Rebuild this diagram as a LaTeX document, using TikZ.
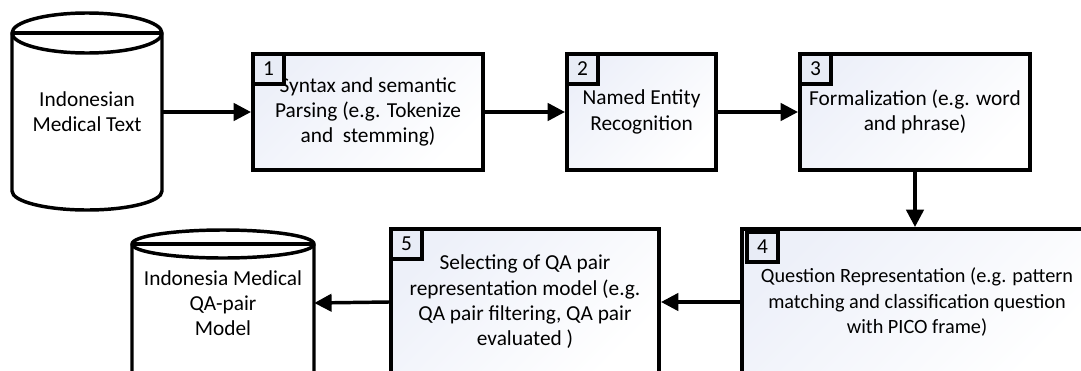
\documentclass[tikz,border=0pt]{standalone}
\usepackage{fontspec}
\setmainfont{Carlito}
\usetikzlibrary{arrows.meta,positioning}
\definecolor{shadeblue}{RGB}{237,240,249}
\definecolor{numfill}{RGB}{232,236,246}
\tikzset{
  lbl/.style={font=\fontsize{16pt}{19pt}\selectfont, align=center},
  procbox/.style={lbl, draw=black, line width=3pt, top color=shadeblue, bottom color=white, shading angle=45, inner sep=0pt, minimum height=87pt},
  numbox/.style={draw=black, line width=3pt, fill=numfill, inner sep=0pt, minimum width=23.25pt, minimum height=22.5pt, anchor=north west, font=\fontsize{16pt}{19pt}\selectfont},
  cylline/.style={draw=black, line width=2.6pt, fill=white},
  conn/.style={line width=2.6pt, -{Triangle[length=13pt,width=13pt]}},
  holder/.style={lbl, inner sep=0pt}
}
\begin{document}
\begin{tikzpicture}[x=0.75pt,y=-0.75pt]
\useasboundingbox (0,0) rectangle (1081,371);
\clip (0,0) rectangle (1081,371);
% cylinder 1
\path[cylline] (12,33) arc[start angle=180,end angle=0,x radius=56.25pt,y radius=15pt] -- (162,191) arc[start angle=0,end angle=-180,x radius=56.25pt,y radius=14.25pt] -- cycle;
\draw[line width=2.6pt] (12,33) arc[start angle=180,end angle=360,x radius=56.25pt,y radius=15pt];
\draw[line width=2.6pt] (12,33) -- (162,33);
\node[holder, minimum width=112.5pt, minimum height=30pt] (cyl1) at (87,112) {Indonesian\\Medical Text};
% cylinder 2
\path[cylline] (132,244) arc[start angle=180,end angle=0,x radius=68.25pt,y radius=10.5pt] -- (314,420) -- (132,420) -- cycle;
\draw[line width=2.6pt] (132,244) arc[start angle=180,end angle=360,x radius=68.25pt,y radius=10.5pt];
\draw[line width=2.6pt] (132,244) -- (314,244);
\node[holder, minimum width=136.5pt, minimum height=30pt] (cyl2) at (223,303) {Indonesia Medical\\QA-pair\\Model};
% process boxes
\node[procbox, minimum width=172.5pt] (box1) at (368,112) {Syntax and semantic\\Parsing (e.g. Tokenize\\and\ \ stemming)};
\node[procbox, minimum width=111.75pt] (box2) at (641.5,112) {Named Entity\\Recognition};
\node[procbox, minimum width=172.5pt] (box3) at (915,112) {Formalization (e.g. word\\and phrase)};
\node[procbox, minimum width=262.5pt, minimum height=109.5pt, font=\fontsize{15.2pt}{19pt}\selectfont] (box4) at (917,302) {Question Representation (e.g. pattern\\matching and classification question\\with PICO frame)};
\node[procbox, minimum width=201pt, minimum height=109.5pt] (box5) at (525,302) {Selecting of QA pair\\representation model (e.g.\\QA pair filtering, QA pair\\evaluated )};
% number boxes
\node[numbox] (n1) at (box1.north west) {1};
\node[numbox] (n2) at (box2.north west) {2};
\node[numbox] (n3) at (box3.north west) {3};
\node[numbox, xshift=3.75pt, yshift=-2.25pt] (n4) at (box4.north west) {4};
\node[numbox] (n5) at (box5.north west) {5};
% connectors
\draw[conn] (cyl1.east) -- (box1.west);
\draw[conn] (box1.east) -- (box2.west);
\draw[conn] (box2.east) -- (box3.west);
\draw[conn] (box3.south) -- (box3.south |- box4.north);
\draw[conn] (box4.west) -- (box5.east);
\draw[conn] (box5.west) -- (cyl2.east);
\end{tikzpicture}
\end{document}
